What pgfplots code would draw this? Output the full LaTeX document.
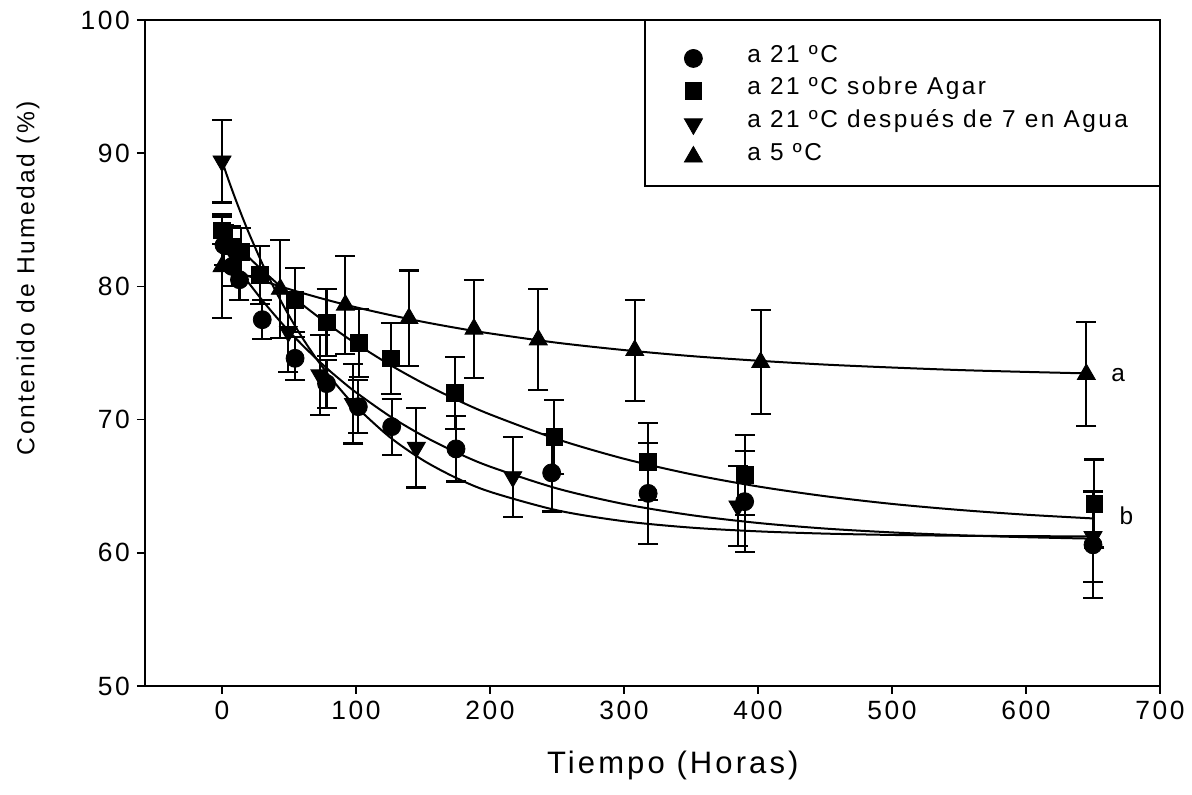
\documentclass[border=0pt]{standalone}
\usepackage{pgfplots}
\pgfplotsset{compat=1.18}
\usepackage{fontspec}
\setmainfont{Liberation Sans}[LetterSpace=10]

\pgfplotstableread{
x y e
1.5 83.1 1.5
7.5 81.5 1.5
13 80.5 1.5
30 77.5 1.45
54.5 74.6 1.6
78 72.7 1.8
101.7 70.97 2.0
126.6 69.47 2.1
174.6 67.8 2.45
246 66.0 2.9
318 64.46 3.8
390 63.84 3.8
650 60.6 4.0
}\circdata
\pgfplotstableread{
x y e
0 84.2 1.0
7 83.0 1.5
14 82.6 1.8
28.4 80.86 2.2
54.5 79.0 2.4
78 77.3 2.5
102 75.75 2.55
126 74.6 2.65
174 72.0 2.7
248 68.7 2.8
318 66.84 2.9
390 65.84 3.0
651 63.7 3.3
}\squaredata
\pgfplotstableread{
x y e
0 89.4 3.1
49.5 76.6 3.0
73 73.35 3.0
98 71.2 3.0
145 67.9 3.0
217 65.7 3.0
385 63.5 3.0
650 61.2 3.4
}\downdata
\pgfplotstableread{
x y e
0 81.5 3.9
43.5 79.8 3.7
92 78.6 3.7
139.5 77.6 3.6
188 76.8 3.7
236 76.0 3.8
308 75.2 3.8
402 74.3 3.9
645 73.4 3.9
}\updata

\begin{document}
\begin{tikzpicture}
\path[use as bounding box] (-72.5pt,-54.5pt) rectangle (523.5pt,343pt);
\begin{axis}[
 at={(0,0)}, anchor=south west,
 scale only axis, width=507.5pt, height=333pt,
 xmin=-57.5, xmax=700, ymin=50, ymax=100,
 xtick={0,100,...,700}, ytick={50,60,...,100},
 tick align=outside, tick pos=left, major tick length=4pt,
 axis line style={line width=0.8pt},
 every tick/.style={line width=0.8pt, black},
 /pgf/number format/assume math mode=true,
 tick label style={font=\fontsize{13.2}{16}\selectfont},
 xlabel={Tiempo (Horas)}, ylabel={Contenido de Humedad (\%)},
 xlabel style={at={(axis description cs:0.52,-0.12)}, anchor=center, font=\fontsize{15.5}{18}\selectfont},
 ylabel style={at={(axis description cs:-0.1153,0.6126)}, anchor=center, font=\fontsize{12.3}{15}\selectfont},
 legend style={at={(axis description cs:0.4926,0.9675)}, anchor=north west, draw=none, fill=none,
   inner xsep=0pt, inner ysep=0pt, row sep=0pt, column sep=0pt, cells={anchor=west},
   nodes={inner sep=0pt, text height=10pt, text depth=6.4pt},
   font=\fontsize{12.2}{14}\selectfont},
 legend image code/.code={\path[draw=none,fill=none] (-24pt,0pt) -- (27pt,0pt); \draw[#1] plot coordinates {(0pt,0pt)};},
 eb/.style={error bars/.cd, y dir=both, y explicit,
   error bar style={line width=1.1pt, black},
   error mark options={rotate=90, mark size=5pt, line width=1.1pt, black}},
 curve/.style={black, line width=1pt, smooth, no marks, forget plot},
]
% fitted curves
\addplot[curve] coordinates {(0,83.1)(5,82.35)(10,81.62)(15,80.92)(20,80.25)(30,78.96)(40,77.76)(50,76.63)(60,75.59)(70,74.61)(80,73.69)(90,72.84)(100,72.04)(125,70.27)(150,68.78)(175,67.53)(200,66.47)(250,64.83)(300,63.66)(350,62.83)(400,62.24)(450,61.82)(500,61.53)(550,61.32)(600,61.17)(650,61.06)};
\addplot[curve] coordinates {(0,84.2)(5,83.67)(10,83.16)(15,82.66)(20,82.17)(30,81.22)(40,80.32)(50,79.46)(60,78.63)(70,77.85)(80,77.10)(90,76.38)(100,75.70)(125,74.13)(150,72.73)(175,71.49)(200,70.39)(250,68.53)(300,67.06)(350,65.90)(400,64.98)(450,64.25)(500,63.67)(550,63.22)(600,62.86)(650,62.58)};
\addplot[curve] coordinates {(0,89.4)(5,87.94)(10,86.56)(15,85.25)(20,84.01)(30,81.72)(40,79.65)(50,77.80)(60,76.13)(70,74.63)(80,73.28)(90,72.06)(100,70.97)(125,68.70)(150,66.95)(175,65.61)(200,64.58)(250,63.19)(300,62.37)(350,61.89)(400,61.61)(450,61.44)(500,61.34)(550,61.28)(600,61.25)(650,61.23)};
\addplot[curve] coordinates {(0,81.5)(10,81.13)(20,80.77)(30,80.43)(45,79.95)(60,79.50)(80,78.94)(100,78.43)(125,77.86)(150,77.34)(175,76.88)(200,76.47)(250,75.77)(300,75.22)(350,74.77)(400,74.42)(450,74.13)(500,73.91)(550,73.72)(600,73.58)(645,73.47)};
% data
\addplot[only marks, mark=*, mark size=4.5pt, black, eb] table[x=x, y=y, y error=e] {\circdata};
\addlegendentry{a 21 ºC}
\addplot[only marks, mark=square*, mark size=4.2pt, black, eb] table[x=x, y=y, y error=e] {\squaredata};
\addlegendentry{a 21 ºC sobre Agar}
\addplot[only marks, mark=triangle*, mark size=5.2pt, mark options={rotate=180}, black, eb] table[x=x, y=y, y error=e] {\downdata};
\addlegendentry{a 21 ºC después de 7 en Agua}
\addplot[only marks, mark=triangle*, mark size=5.2pt, black, eb] table[x=x, y=y, y error=e] {\updata};
\addlegendentry{a 5 ºC}
\draw[line width=0.8pt] (rel axis cs:0.4926,0.7508) rectangle (rel axis cs:1,1);
\node[font=\fontsize{12.2}{14}\selectfont] at (axis cs:668.7,73.35) {a};
\node[font=\fontsize{12.2}{14}\selectfont] at (axis cs:675,62.8) {b};
\end{axis}
\end{tikzpicture}
\end{document}
